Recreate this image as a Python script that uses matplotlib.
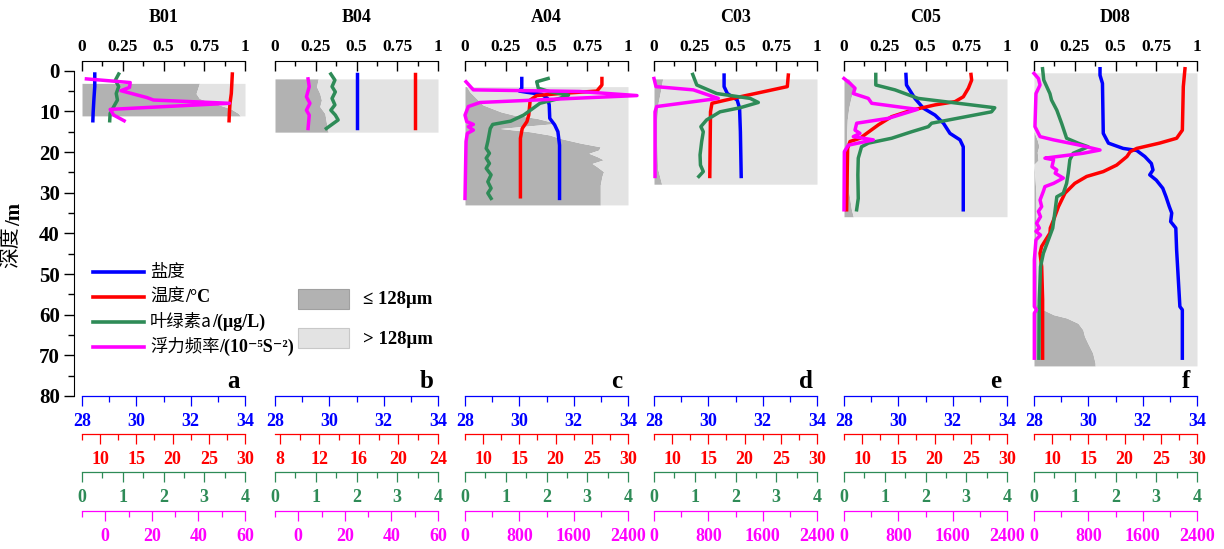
import matplotlib.pyplot as plt
from matplotlib.ticker import MultipleLocator, FixedLocator, FixedFormatter
from matplotlib.lines import Line2D
from matplotlib.patches import Rectangle

plt.rcParams['font.family'] = ['Liberation Serif', 'DejaVu Serif']
plt.rcParams['font.weight'] = 'bold'

stations = ['B01', 'B04', 'A04', 'C03', 'C05', 'D08']
letters = ['a', 'b', 'c', 'd', 'e', 'f']

# ranges of the four bottom scales
sal_range = (28, 34)
chl_range = (0, 4)
temp_ranges = [(7.5, 30), (7.5, 24), (7.5, 30), (7.5, 30), (7.5, 30), (7.5, 30)]
n2_ranges = [(-10, 60), (-10, 60), (0, 2400), (0, 2400), (0, 2400), (0, 2400)]

# ---- B01 ----
b01_sal_d = [0.8, 3.9, 6.8, 10.3, 12.3]
b01_sal = [28.47, 28.47, 28.44, 28.41, 28.40]
b01_temp_d = [0.8, 5.6, 8.0, 10.5, 12.3]
b01_temp = [28.25, 28.11, 27.93, 27.84, 27.80]
b01_chl_d = [0.8, 2.3, 3.9, 5.6, 7.2, 8.8, 10.5, 12.3]
b01_chl = [0.90, 0.82, 0.90, 0.84, 0.87, 0.78, 0.69, 0.68]
b01_n2_d = [2.0, 2.9, 4.1, 4.9, 6.6, 7.2, 8.0, 9.5, 10.9, 12.3]
b01_n2 = [-8.1, 10.7, 10.4, 6.7, 17.9, 20.7, 53.3, 2.1, 3.6, 8.1]
b01_fine_d = [3.1, 4.35, 5.6, 6.8, 8.0, 9.3, 10.5, 11.1]
b01_fine = [0.72, 0.71, 0.70, 0.72, 0.81, 0.91, 0.96, 0.97]

# ---- B04 ----
b04_sal_d = [0.8, 5.0, 10.0, 14.2]
b04_sal = [31.0, 31.0, 31.0, 31.0]
b04_temp_d = [0.8, 5.0, 10.0, 14.2]
b04_temp = [21.7, 21.7, 21.7, 21.7]
b04_chl_d = [0.8, 2.3, 3.9, 5.2, 6.8, 8.4, 9.7, 10.9, 12.1, 14.2]
b04_chl = [1.37, 1.47, 1.40, 1.48, 1.40, 1.47, 1.37, 1.48, 1.55, 1.26]
b04_n2_d = [2.0, 3.9, 6.4, 8.0, 9.7, 10.9, 14.2]
b04_n2 = [4.2, 4.7, 3.5, 5.0, 3.5, 4.7, 4.2]
b04_fine_d = [2.0, 3.9, 5.6, 7.2, 8.8, 10.5, 12.9, 15.1]
b04_fine = [0.265, 0.255, 0.275, 0.285, 0.275, 0.306, 0.316, 0.326]

# ---- A04 ----
a04_sal_d = [1.9, 4.3, 5.0, 5.3, 5.8, 6.8, 8.4, 11.7, 13.3, 15.0, 18.3, 31.4]
a04_sal = [30.09, 30.09, 30.00, 30.28, 30.82, 31.04, 31.10, 31.12, 31.30, 31.42, 31.48, 31.48]
a04_temp_d = [1.9, 3.5, 5.0, 5.6, 6.1, 7.2, 10.9, 12.5, 14.2, 16.6, 31.0]
a04_temp = [26.4, 26.4, 25.7, 20.6, 17.4, 16.5, 16.3, 16.05, 15.4, 15.15, 15.15]
a04_chl_d = [1.9, 2.7, 4.3, 5.15, 6.0, 6.8, 8.0, 10.9, 12.4, 13.2, 14.2, 17.4, 19.1,
             20.3, 21.5, 22.8, 24.0, 25.6, 27.3, 28.9, 30.1, 31.4]
a04_chl = [2.04, 1.76, 1.80, 2.08, 2.54, 2.32, 1.84, 1.44, 1.12, 0.68, 0.62, 0.56, 0.52,
           0.60, 0.52, 0.60, 0.52, 0.64, 0.56, 0.64, 0.56, 0.64]
a04_n2_d = [2.7, 4.7, 5.1, 6.1, 7.8, 8.8, 10.9, 12.5, 13.2, 13.75, 14.6, 15.4, 17.4, 31.4]
a04_n2 = [15, 123, 1680, 2532, 221, 49, 0, 25, 123, 49, 123, 34, 15, 0]
a04_fine_d = [3.9, 5.2, 6.8, 8.4, 10.1, 10.9, 11.7, 12.5, 13.0, 13.6, 14.2, 15.0, 15.8,
              16.6, 17.8, 18.7, 19.5, 20.3, 21.1, 21.9, 22.8, 23.6, 24.8, 26.0, 28.1, 33.0]
a04_fine = [0.01, 0.03, 0.07, 0.11, 0.22, 0.30, 0.44, 0.52, 0.55, 0.38, 0.215, 0.40, 0.52,
            0.58, 0.71, 0.83, 0.82, 0.76, 0.81, 0.85, 0.78, 0.81, 0.85, 0.84, 0.83, 0.83]

# ---- C03 ----
c03_sal_d = [1.06, 3.9, 5.6, 7.2, 9.2, 15.0, 26.0]
c03_sal = [30.58, 30.58, 30.70, 31.06, 31.15, 31.18, 31.21]
c03_temp_d = [1.06, 3.9, 6.4, 8.0, 10.1, 26.0]
c03_temp = [26.04, 25.9, 19.4, 15.5, 15.3, 15.2]
c03_chl_d = [0.9, 3.5, 5.6, 6.8, 7.8, 9.1, 10.1, 12.1, 13.75, 15.0, 17.4, 20.7, 23.2, 24.8, 26.0]
c03_chl = [0.95, 1.05, 1.54, 2.36, 2.56, 2.11, 1.62, 1.29, 1.15, 1.21, 1.17, 1.13, 1.14, 1.21, 1.10]
c03_n2_d = [1.9, 3.9, 4.7, 6.8, 8.8, 10.1, 26.0]
c03_n2 = [0, 29, 579, 947, 39, 15, 15]
c03_fine_d = [2.0, 5.0, 8.0, 12.0, 18.0, 24.0, 27.9]
c03_fine = [0.053, 0.04, 0.025, 0.018, 0.018, 0.022, 0.047]

# ---- C05 ----
c05_sal_d = [0.9, 3.5, 6.8, 9.2, 10.9, 12.9, 15.4, 17.0, 18.7, 34.2]
c05_sal = [30.28, 30.30, 30.61, 30.92, 31.35, 31.66, 31.90, 32.27, 32.39, 32.39]
c05_temp_d = [0.9, 2.3, 4.3, 6.4, 7.6, 8.4, 9.7, 11.3, 13.3, 15.4, 16.6, 17.4, 19.1, 34.2]
c05_temp = [25.03, 25.12, 24.67, 23.97, 22.82, 20.06, 16.84, 14.07, 12.25, 10.63, 9.71, 8.33, 8.00, 7.86]
c05_chl_d = [0.9, 3.5, 4.7, 6.8, 9.1, 10.1, 12.9, 13.75, 15.0, 16.6, 17.8, 18.7, 21.5, 25.6, 31.4, 34.2]
c05_chl = [0.78, 0.78, 1.25, 1.82, 3.70, 3.62, 2.15, 2.07, 1.66, 1.17, 0.60, 0.43, 0.35, 0.34, 0.35, 0.31]
c05_n2_d = [1.9, 3.1, 4.3, 5.6, 6.8, 8.0, 9.5, 11.7, 12.9, 14.6, 15.4, 16.2, 17.0, 18.3, 19.9, 34.2]
c05_n2 = [0, 88, 162, 137, 358, 408, 1080, 653, 187, 162, 235, 137, 432, 64, 5, 0]
c05_fine_d = [2.0, 3.5, 6.0, 9.0, 12.0, 16.0, 20.0, 25.0, 30.0, 34.0, 35.9]
c05_fine = [0.03, 0.057, 0.047, 0.03, 0.02, 0.016, 0.02, 0.025, 0.03, 0.045, 0.057]

# ---- D08 ----
d08_sal_d = [-0.5, 1.1, 3.1, 15.4, 17.8, 19.1, 19.6, 21.1, 22.8, 24.4, 25.6, 26.9, 28.9,
             31.0, 33.4, 35.0, 37.1, 38.7, 44.1, 58.0, 58.8, 70.7]
d08_sal = [30.43, 30.43, 30.52, 30.55, 30.74, 31.28, 31.78, 32.08, 32.32, 32.38, 32.26, 32.50,
           32.74, 32.86, 32.98, 33.07, 33.03, 33.22, 33.25, 33.37, 33.46, 33.46]
d08_temp_d = [-0.5, 3.9, 14.6, 16.6, 17.8, 19.1, 19.9, 21.1, 23.2, 24.8, 26.0, 27.7, 30.1,
              33.4, 36.7, 38.7, 39.9, 43.2, 44.9, 48.2, 56.3, 70.7]
d08_temp = [28.34, 28.11, 27.98, 27.19, 24.83, 21.68, 20.78, 20.33, 18.91, 17.06, 14.77, 13.13,
            11.78, 10.88, 10.20, 9.75, 9.71, 8.56, 8.33, 8.56, 8.69, 8.69]
d08_chl_d = [-0.5, 2.3, 5.6, 7.2, 9.7, 13.0, 16.6, 17.8, 18.7, 20.3, 21.9, 25.2, 27.7, 30.1,
             31.0, 34.2, 38.7, 44.9, 48.2, 56.3, 70.7]
d08_chl = [0.21, 0.24, 0.39, 0.43, 0.56, 0.68, 0.80, 1.08, 1.33, 0.96, 0.88, 0.84, 0.80, 0.72,
           0.56, 0.52, 0.46, 0.23, 0.16, 0.13, 0.12]
d08_n2_d = [0.65, 1.9, 3.5, 5.6, 13.75, 16.2, 17.0, 18.3, 19.5, 20.3, 21.5, 21.9, 23.6, 24.4,
            25.2, 26.4, 27.7, 28.5, 29.7, 31.8, 33.4, 34.6, 35.9, 37.5, 38.7, 39.5, 40.4, 41.6,
            46.5, 58.0, 58.8, 59.6, 70.7]
d08_n2 = [0, 65, 89, 29, 14, 89, 288, 672, 972, 720, 161, 288, 264, 336, 312, 432, 288, 161,
          137, 89, 113, 65, 96, 38, 79, 29, 96, 29, 5, 5, 38, 5, 5]
d08_fine_d = [0.5, 15.0, 17.0, 18.5, 20.0, 22.0, 23.0, 30.0, 40.0, 50.0, 57.5, 58.8, 60.0,
              60.8, 62.1, 63.7, 65.3, 67.0, 69.4, 71.9, 72.6]
d08_fine = [0.0, 0.0, 0.02, 0.03, 0.02, 0.025, 0.0, 0.012, 0.012, 0.015, 0.02, 0.057, 0.12,
            0.20, 0.27, 0.30, 0.31, 0.33, 0.36, 0.375, 0.375]

sal_d = [b01_sal_d, b04_sal_d, a04_sal_d, c03_sal_d, c05_sal_d, d08_sal_d]
sal_v = [b01_sal, b04_sal, a04_sal, c03_sal, c05_sal, d08_sal]
temp_d = [b01_temp_d, b04_temp_d, a04_temp_d, c03_temp_d, c05_temp_d, d08_temp_d]
temp_v = [b01_temp, b04_temp, a04_temp, c03_temp, c05_temp, d08_temp]
chl_d = [b01_chl_d, b04_chl_d, a04_chl_d, c03_chl_d, c05_chl_d, d08_chl_d]
chl_v = [b01_chl, b04_chl, a04_chl, c03_chl, c05_chl, d08_chl]
n2_d = [b01_n2_d, b04_n2_d, a04_n2_d, c03_n2_d, c05_n2_d, d08_n2_d]
n2_v = [b01_n2, b04_n2, a04_n2, c03_n2, c05_n2, d08_n2]
fine_d = [b01_fine_d, b04_fine_d, a04_fine_d, c03_fine_d, c05_fine_d, d08_fine_d]
fine_v = [b01_fine, b04_fine, a04_fine, c03_fine, c05_fine, d08_fine]

BLUE, RED, GREEN, MAG = '#0000ff', '#ff0000', '#2e8b57', '#ff00ff'
DARK, LIGHT = '#b2b2b2', '#e3e3e3'

W, H = 1224, 549
fig = plt.figure(figsize=(W / 100, H / 100), dpi=100)

x0s = [82, 275, 465, 654, 844, 1034]
pw = 163
top_px, bot_px = 61, 396

for i in range(6):
    rect = [x0s[i] / W, 1 - bot_px / H, pw / W, (bot_px - top_px) / H]
    ax = fig.add_axes(rect)
    ax.patch.set_visible(False)
    ax.set_xlim(0, 1)
    ax.set_ylim(80, -2.4)

    # grain size shading
    ax.fill_betweenx(fine_d[i], 0, fine_v[i], color=DARK, lw=0)
    ax.fill_betweenx(fine_d[i], fine_v[i], 1, color=LIGHT, lw=0)

    for s in ['bottom', 'right']:
        ax.spines[s].set_visible(False)
    ax.xaxis.set_ticks_position('top')
    ax.xaxis.set_major_locator(FixedLocator([0, 0.25, 0.5, 0.75, 1]))
    ax.xaxis.set_major_formatter(FixedFormatter(['0', '0.25', '0.5', '0.75', '1']))
    ax.xaxis.set_minor_locator(MultipleLocator(0.125))
    ax.tick_params(axis='x', which='major', direction='in', length=7, width=1,
                   labelsize=12.5, pad=4)
    ax.tick_params(axis='x', which='minor', direction='in', length=3.5, width=1)

    if i == 0:
        ax.spines['left'].set_position(('outward', 6))
        ax.spines['left'].set_bounds(0, 80)
        ax.yaxis.set_major_locator(MultipleLocator(10))
        ax.yaxis.set_minor_locator(MultipleLocator(5))
        ax.tick_params(axis='y', which='major', direction='out', length=7, width=1,
                       labelsize=15, pad=3)
        ax.tick_params(axis='y', which='minor', direction='out', length=4, width=1)
    else:
        ax.spines['left'].set_visible(False)
        ax.tick_params(axis='y', which='both', left=False, labelleft=False)

    ax.text(0.93, 0.024, letters[i], transform=ax.transAxes, ha='center',
            va='baseline', fontsize=18, fontweight='bold')
    fig.text((x0s[i] + pw / 2) / W, 1 - 17 / H, stations[i], ha='center',
             va='center', fontsize=13, fontweight='bold')

    if i == 1:
        temp_major, temp_minor = 4, 2
    else:
        temp_major, temp_minor = 5, 2.5
    if i < 2:
        n2_major, n2_minor = 20, 10
    else:
        n2_major, n2_minor = 800, 400

    variables = [
        (sal_d[i], sal_v[i], sal_range, BLUE, 0, 2, 1),
        (temp_d[i], temp_v[i], temp_ranges[i], RED, 27.4, temp_major, temp_minor),
        (chl_d[i], chl_v[i], chl_range, GREEN, 54.7, 1, 0.5),
        (n2_d[i], n2_v[i], n2_ranges[i], MAG, 82.8, n2_major, n2_minor),
    ]
    for d, v, lim, col, off, mj, mn in variables:
        tw = fig.add_axes(rect, sharey=ax)
        tw.patch.set_visible(False)
        tw.yaxis.set_visible(False)
        for s in ['top', 'left', 'right']:
            tw.spines[s].set_visible(False)
        tw.spines['bottom'].set_position(('outward', off))
        tw.spines['bottom'].set_color(col)
        tw.spines['bottom'].set_linewidth(0.9)
        tw.set_xlim(*lim)
        tw.xaxis.set_major_locator(MultipleLocator(mj))
        tw.xaxis.set_minor_locator(MultipleLocator(mn))
        tw.tick_params(axis='x', which='major', direction='out', length=7.5, width=0.9,
                       colors=col, labelsize=13, pad=5)
        tw.tick_params(axis='x', which='minor', direction='out', length=4, width=0.9,
                       colors=col)
        tw.plot(v, d, color=col, lw=2.5, clip_on=False)

# depth label
ylab = fig.text(16 / W, 1 - 268 / H, '深度', rotation=90, rotation_mode='anchor',
                ha='left', va='baseline', family=['Noto Sans CJK SC'],
                fontweight='normal', fontsize=15)
ax0 = fig.axes[0]
ax0.annotate('/m', xy=(20 / W, 1), xycoords=('figure fraction', ylab),
             rotation=90, rotation_mode='anchor', ha='left', va='baseline',
             fontsize=15, fontweight='bold', annotation_clip=False)

# legend
leg_cols = [BLUE, RED, GREEN, MAG]
leg_cjk = ['盐度', '温度', '叶绿素a', '浮力频率']
leg_rest = ['', '/°C', '/(μg/L)', '/(10⁻⁵S⁻²)']
leg_y = [272, 297, 322, 347]
for col, cjk, rest, y in zip(leg_cols, leg_cjk, leg_rest, leg_y):
    fig.add_artist(Line2D([93 / W, 144 / W], [1 - y / H, 1 - y / H], color=col, lw=2.6))
    yb = 1 - (y + 5) / H
    t = fig.text(150 / W, yb, cjk, ha='left', va='baseline', family=['Noto Sans CJK SC'],
                 fontweight='normal', fontsize=12.5)
    if rest:
        ax0.annotate(rest, xy=(1, yb), xycoords=(t, 'figure fraction'), ha='left',
                     va='baseline', fontsize=13, fontweight='bold', annotation_clip=False)

fig.add_artist(Rectangle((298 / W, 1 - 309 / H), 51 / W, 20 / H, facecolor=DARK,
                         edgecolor='#a0a0a0', lw=0.8, transform=fig.transFigure))
fig.add_artist(Rectangle((298 / W, 1 - 348 / H), 51 / W, 20 / H, facecolor=LIGHT,
                         edgecolor='#c8c8c8', lw=0.8, transform=fig.transFigure))
fig.text(363 / W, 1 - 300 / H, '≤ 128μm', ha='left', va='center', fontsize=13.5,
         fontweight='bold')
fig.text(363 / W, 1 - 339 / H, '> 128μm', ha='left', va='center', fontsize=13.5,
         fontweight='bold')

fig.savefig('out.png', dpi=100)
